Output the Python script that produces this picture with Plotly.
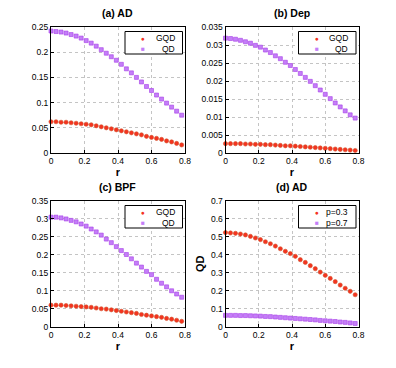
import plotly.graph_objects as go
from plotly.subplots import make_subplots

# r grid (27 points, 0 .. 0.78)
r = [0.00, 0.03, 0.06, 0.09, 0.12, 0.15, 0.18, 0.21, 0.24, 0.27, 0.30, 0.33, 0.36, 0.39,
     0.42, 0.45, 0.48, 0.51, 0.54, 0.57, 0.60, 0.63, 0.66, 0.69, 0.72, 0.75, 0.78]

# (a) AD
ad_gqd = [0.062, 0.062, 0.061, 0.061, 0.060, 0.059, 0.058, 0.057, 0.056, 0.054, 0.052, 0.050,
          0.048, 0.046, 0.044, 0.042, 0.040, 0.038, 0.036, 0.033, 0.031, 0.029, 0.027, 0.024,
          0.022, 0.019, 0.016]
ad_qd = [0.242, 0.241, 0.240, 0.238, 0.235, 0.232, 0.228, 0.223, 0.218, 0.212, 0.205, 0.198,
         0.191, 0.184, 0.176, 0.167, 0.159, 0.150, 0.141, 0.132, 0.124, 0.115, 0.107, 0.099,
         0.091, 0.083, 0.075]

# (b) Dep
dep_gqd = [0.0026, 0.0026, 0.0026, 0.0026, 0.0025, 0.0025, 0.0024, 0.0024, 0.0023, 0.0023,
           0.0022, 0.0021, 0.0020, 0.0020, 0.0019, 0.0018, 0.0017, 0.0016, 0.0015, 0.0014,
           0.0013, 0.0012, 0.0011, 0.0010, 0.0009, 0.0008, 0.0007]
dep_qd = [0.0319, 0.0318, 0.0316, 0.0313, 0.0309, 0.0305, 0.0299, 0.0294, 0.0286, 0.0279,
          0.0270, 0.0262, 0.0252, 0.0243, 0.0232, 0.0221, 0.0210, 0.0199, 0.0187, 0.0175,
          0.0163, 0.0151, 0.0139, 0.0128, 0.0117, 0.0106, 0.0097]

# (c) BPF
bpf_gqd = [0.060, 0.060, 0.060, 0.059, 0.058, 0.057, 0.056, 0.055, 0.054, 0.052, 0.050, 0.049,
           0.047, 0.045, 0.043, 0.041, 0.039, 0.037, 0.034, 0.032, 0.030, 0.028, 0.026, 0.023,
           0.021, 0.018, 0.015]
bpf_qd = [0.305, 0.305, 0.303, 0.300, 0.296, 0.292, 0.286, 0.280, 0.272, 0.264, 0.255, 0.244,
          0.234, 0.223, 0.212, 0.201, 0.189, 0.177, 0.166, 0.154, 0.145, 0.132, 0.121, 0.111,
          0.100, 0.091, 0.082]

# (d) AD, QD for two p values
d_p03 = [0.524, 0.522, 0.520, 0.516, 0.511, 0.503, 0.494, 0.485, 0.473, 0.462, 0.449, 0.434,
         0.420, 0.407, 0.392, 0.373, 0.358, 0.340, 0.323, 0.304, 0.286, 0.269, 0.251, 0.232,
         0.214, 0.197, 0.178]
d_p07 = [0.063, 0.063, 0.063, 0.062, 0.062, 0.061, 0.060, 0.059, 0.057, 0.056, 0.054, 0.052,
         0.050, 0.048, 0.046, 0.044, 0.042, 0.040, 0.038, 0.035, 0.033, 0.031, 0.029, 0.026,
         0.024, 0.021, 0.018]

x_ticks = [0, 0.2, 0.4, 0.6, 0.8]
x_ticktext = ["0", "0.2", "0.4", "0.6", "0.8"]
y_ticks_a = [0, 0.05, 0.1, 0.15, 0.2, 0.25]
y_ticktext_a = ["0", "0.05", "0.1", "0.15", "0.2", "0.25"]
y_ticks_b = [0, 0.005, 0.01, 0.015, 0.02, 0.025, 0.03, 0.035]
y_ticktext_b = ["0", "0.005", "0.01", "0.015", "0.02", "0.025", "0.03", "0.035"]
y_ticks_c = [0, 0.05, 0.1, 0.15, 0.2, 0.25, 0.3, 0.35]
y_ticktext_c = ["0", "0.05", "0.1", "0.15", "0.2", "0.25", "0.3", "0.35"]
y_ticks_d = [0, 0.1, 0.2, 0.3, 0.4, 0.5, 0.6, 0.7]
y_ticktext_d = ["0", "0.1", "0.2", "0.3", "0.4", "0.5", "0.6", "0.7"]

titles = ["(a) AD", "(b) Dep", "(c) BPF", "(d) AD"]

W, H = 396, 368
FONT = "Liberation Sans, Arial, sans-serif"
RED, RED_EDGE = "#f4331f", "#d2502a"
PUR, PUR_EDGE = "#c47ef8", "#a63ae8"

# panel boxes in pixels: (left, right, top, bottom)
boxes = [(51, 185, 27, 153), (225.5, 358.5, 27, 153),
         (51, 185, 201, 326.7), (225.5, 358.5, 201, 326.7)]

fig = make_subplots(rows=2, cols=2)

panels = [
    (ad_gqd, ad_qd, "GQD", "QD", y_ticks_a, y_ticktext_a),
    (dep_gqd, dep_qd, "GQD", "QD", y_ticks_b, y_ticktext_b),
    (bpf_gqd, bpf_qd, "GQD", "QD", y_ticks_c, y_ticktext_c),
    (d_p03, d_p07, "p=0.3", "p=0.7", y_ticks_d, y_ticktext_d),
]


def px(x, y):
    return x / W, 1 - y / H


for i, (s1, s2, n1, n2, yt, ytt) in enumerate(panels):
    row, col = i // 2 + 1, i % 2 + 1
    fig.add_trace(go.Scatter(
        x=r, y=s1, mode="markers", name=n1, showlegend=False, cliponaxis=False,
        marker=dict(symbol="circle", size=4.2, color=RED, line=dict(color=RED_EDGE, width=0.6)),
    ), row=row, col=col)
    fig.add_trace(go.Scatter(
        x=r, y=s2, mode="markers", name=n2, showlegend=False, cliponaxis=False,
        marker=dict(symbol="square", size=4, color=PUR, line=dict(color=PUR_EDGE, width=0.6)),
    ), row=row, col=col)

    l, rr, t, b = boxes[i]
    axis_common = dict(
        showline=True, mirror=True, linecolor="black", linewidth=1,
        ticks="inside", ticklen=3, tickcolor="black", automargin=False,
        showgrid=True, gridcolor="#c4c4c4", griddash="dot", gridwidth=0.8,
        zeroline=False, tickfont=dict(size=8.5, color="black"),
    )
    fig.update_xaxes(domain=[l / W, rr / W], range=[0, 0.8], tickvals=x_ticks, ticktext=x_ticktext,
                     title=dict(text="<b>r</b>", font=dict(size=11), standoff=1),
                     row=row, col=col, **axis_common)
    fig.update_yaxes(domain=[1 - b / H, 1 - t / H], range=[0, yt[-1]], tickvals=yt, ticktext=ytt,
                     row=row, col=col, **axis_common)

    tx, ty = px((l + rr) / 2, t - 6)
    fig.add_annotation(text=f"<b>{titles[i]}</b>", xref="paper", yref="paper",
                       x=tx, y=ty, xanchor="center", yanchor="bottom",
                       showarrow=False, font=dict(size=10.5, color="black"))

    # legend box (MATLAB style, drawn in paper space)
    lx0, lx1 = rr - 60, rr - 2.5
    ly0, ly1 = t + 4.5, t + 27
    x0, y0 = px(lx0, ly0)
    x1, y1 = px(lx1, ly1)
    fig.add_shape(type="rect", xref="paper", yref="paper", x0=x0, x1=x1, y0=y1, y1=y0,
                  line=dict(color="black", width=1), fillcolor="white", layer="above")
    for k, (name, sym, col_) in enumerate([(n1, "●", RED), (n2, "■", PUR)]):
        yy = ly0 + 6.5 + k * 10.5
        mx, my = px(lx0 + 18, yy)
        fig.add_annotation(text=sym, xref="paper", yref="paper", x=mx, y=my,
                           xanchor="center", yanchor="middle", showarrow=False,
                           font=dict(size=6.5, color=col_))
        nx, ny = px(lx1 - 6, yy)
        fig.add_annotation(text=name, xref="paper", yref="paper", x=nx, y=ny,
                           xanchor="right", yanchor="middle", showarrow=False,
                           font=dict(size=8.5, color="black"))

fig.update_yaxes(title=dict(text="<b>QD</b>", font=dict(size=11), standoff=4), row=2, col=2)

fig.update_layout(
    width=W, height=H, margin=dict(l=0, r=0, t=0, b=0),
    paper_bgcolor="white", plot_bgcolor="white",
    font=dict(family=FONT, color="black"),
    showlegend=False,
)

# drop the browser's default body margin so the figure sits at (0, 0)
fig.write_html("out.html", config={"displayModeBar": False},
               post_script="document.body.style.margin='0';")
